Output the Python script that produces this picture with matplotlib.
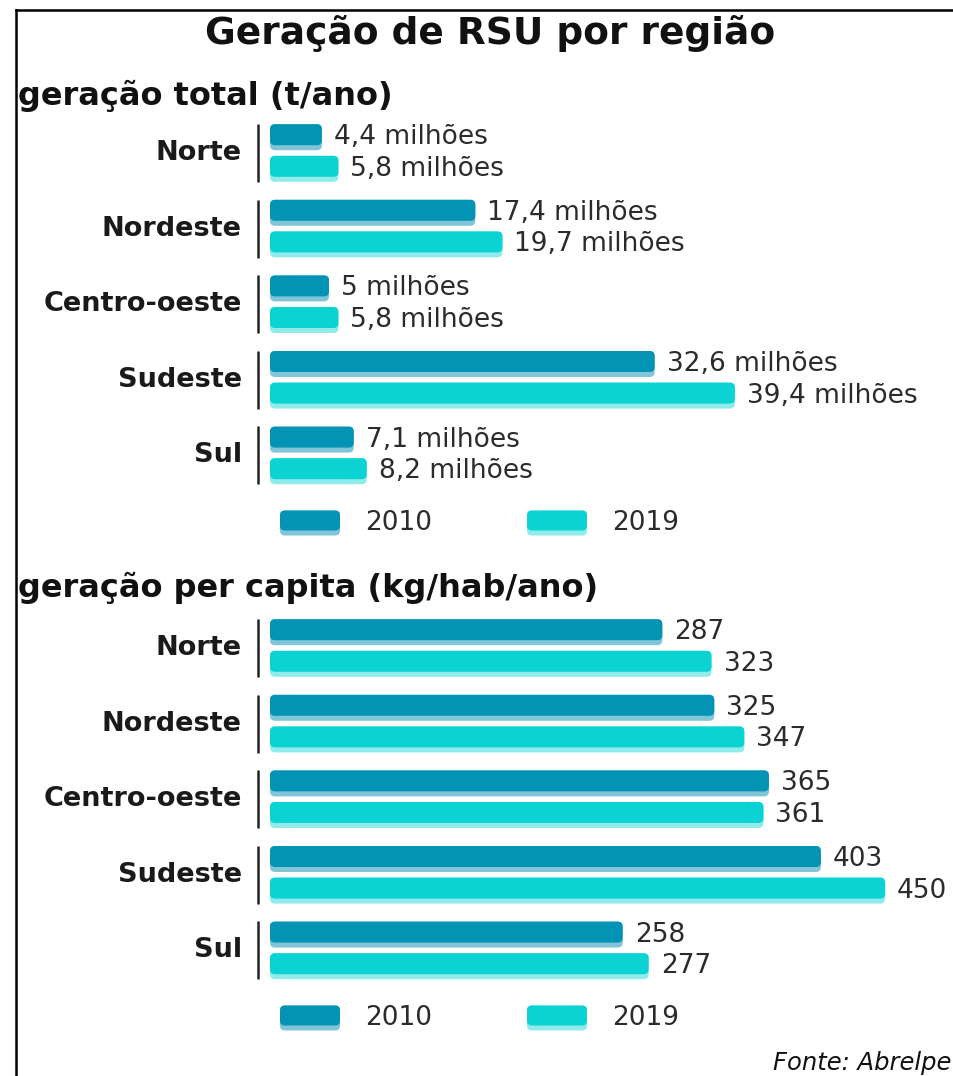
import matplotlib
matplotlib.use("Agg")
import matplotlib.pyplot as plt
from matplotlib.patches import FancyBboxPatch
from matplotlib.transforms import offset_copy
from matplotlib.lines import Line2D

W, H = 954, 1076
FONT = "DejaVu Sans"

REGIONS = ["Norte", "Nordeste", "Centro-oeste", "Sudeste", "Sul"]
YEARS = ["2010", "2019"]
TOTAL_2010 = [4.4, 17.4, 5.0, 32.6, 7.1]      # milhões t/ano
TOTAL_2019 = [5.8, 19.7, 5.8, 39.4, 8.2]
PERCAP_2010 = [287, 325, 365, 403, 258]       # kg/hab/ano
PERCAP_2019 = [323, 347, 361, 450, 277]

C_DARK = "#0393b5"; C_DARK_LT = "#80c6d8"
C_CYAN = "#0bd3d3"; C_CYAN_LT = "#90ebeb"
TXT = "#2b2b2b"

fig = plt.figure(figsize=(W / 100, H / 100), dpi=100)
fig.patch.set_facecolor("white")


def fx(px):
    return px / W


def fy(py):
    return 1 - py / H


# frame lines (left + top)
fig.add_artist(Line2D([fx(16), fx(16)], [fy(10), fy(H)], color="black", lw=1.8))
fig.add_artist(Line2D([fx(16), 1], [fy(10), fy(10)], color="black", lw=1.8))


def rounded(ax, bar, color, px_per_x, px_per_y, r=5):
    # swap the plain barh rectangle for a rounded one of the same extent
    x, y = bar.get_x(), bar.get_y()
    w, h = bar.get_width(), bar.get_height()
    rs = r / px_per_x
    asp = px_per_x / px_per_y
    p = FancyBboxPatch((x, y), w, h, boxstyle=f"round,pad=0,rounding_size={rs}",
                       mutation_aspect=asp, fc=color, ec="none")
    ax.add_patch(p)
    bar.set_visible(False)


def panel(top_px, vals_a, vals_b, px_per_unit, fmt):
    spacing = 75.6
    y0 = top_px - spacing / 2
    ax = fig.add_axes([fx(270), fy(y0 + 5 * spacing), 1 - fx(270), 5 * spacing / H])
    ax.set_xlim(0, (W - 270) / px_per_unit)
    ax.set_ylim(4.5, -0.5)
    ax.axis("off")
    ppy = spacing
    idx = list(range(len(REGIONS)))
    h = 26 / ppy
    strip = 5 / ppy
    for vals, off, col, lt in [(vals_a, -15.8, C_DARK, C_DARK_LT), (vals_b, 15.8, C_CYAN, C_CYAN_LT)]:
        ys = [i + off / ppy for i in idx]
        under = ax.barh(ys, vals, height=h)
        for b in under:
            rounded(ax, b, lt, px_per_unit, ppy)
        top = ax.barh([y - strip / 2 for y in ys], vals, height=h - strip)
        for b in top:
            rounded(ax, b, col, px_per_unit, ppy)
        lab_tr = offset_copy(ax.transData, fig=fig, x=12, y=0, units="dots")
        for y, v in zip(ys, vals):
            ax.text(v, y, fmt(v), transform=lab_tr, ha="left", va="center",
                    fontsize=19, color=TXT, family=FONT)
    line_tr = offset_copy(ax.transData, fig=fig, x=-12, y=0, units="dots")
    cat_tr = offset_copy(ax.transData, fig=fig, x=-28, y=0, units="dots")
    for i, name in enumerate(REGIONS):
        ax.plot([0, 0], [i - 29 / ppy, i + 29 / ppy], color="#222222", lw=1.8,
                transform=line_tr, clip_on=False, solid_capstyle="butt")
        ax.text(0, i, name, transform=cat_tr, ha="right", va="center",
                fontsize=19.5, color="#1a1a1a", family=FONT, fontweight="bold")
    return ax


def legend(y_center):
    for x0, col, lt, yr in [(280, C_DARK, C_DARK_LT, YEARS[0]), (527, C_CYAN, C_CYAN_LT, YEARS[1])]:
        fig.add_artist(FancyBboxPatch((fx(x0), fy(y_center + 12.5)), fx(60), 25 / H,
                                      boxstyle="round,pad=0,rounding_size=0.005",
                                      mutation_aspect=W / H, fc=lt, ec="none",
                                      transform=fig.transFigure))
        fig.add_artist(FancyBboxPatch((fx(x0), fy(y_center + 7.5)), fx(60), 20 / H,
                                      boxstyle="round,pad=0,rounding_size=0.005",
                                      mutation_aspect=W / H, fc=col, ec="none",
                                      transform=fig.transFigure))
        fig.text(fx(x0 + 85), fy(y_center), yr, ha="left", va="center",
                 fontsize=19, color=TXT, family=FONT)


def fmt_total(v):
    s = f"{v:.1f}".replace(".", ",")
    if s.endswith(",0"):
        s = s[:-2]
    return s + " milhões"


fig.text(fx(490), fy(34), "Geração de RSU por região", ha="center", va="center",
         fontsize=27, fontweight="bold", color="#111111", family=FONT)
fig.text(fx(18), fy(96), "geração total (t/ano)", ha="left", va="center",
         fontsize=23, fontweight="bold", color="#111111", family=FONT)
panel(153, TOTAL_2010, TOTAL_2019, 11.8, fmt_total)
legend(523)

fig.text(fx(18), fy(588), "geração per capita (kg/hab/ano)", ha="left", va="center",
         fontsize=23, fontweight="bold", color="#111111", family=FONT)
panel(648, PERCAP_2010, PERCAP_2019, 1.367, lambda v: f"{v}")
legend(1018)

fig.text(fx(773), fy(1063), "Fonte: Abrelpe", ha="left", va="center",
         fontsize=17.5, style="italic", color="#111111", family=FONT)

fig.savefig("out.png", dpi=100, facecolor="white")
